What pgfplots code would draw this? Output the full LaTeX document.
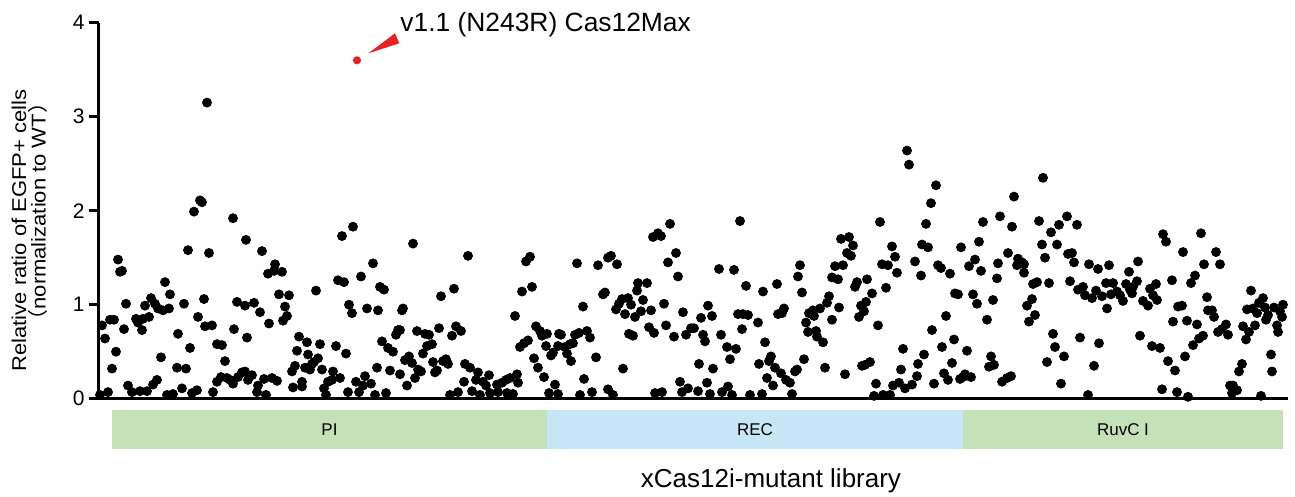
\documentclass[border=0pt]{standalone}
\usepackage{fontspec}
\setmainfont{Liberation Sans}
\newfontfamily\cjk{Noto Sans CJK SC}
\usepackage{graphicx}
\usepackage{pgfplots}
\usepackage{pgfplotstable}
\pgfplotsset{compat=1.18}

\definecolor{domgreen}{RGB}{197,225,183}
\definecolor{domblue}{RGB}{199,230,247}
\definecolor{hlred}{RGB}{232,32,32}

% Library screen: mutant position (library order) vs. relative EGFP+ ratio
\pgfplotstableread{
x y
100 0.04
102 0.78
105 0.64
108 0.07
110 0.84
112 0.32
114 0.84
116 0.50
118 1.48
120 1.35
122 1.36
124 0.74
126 1.01
128 0.14
132 0.07
136 0.85
138 0.81
140 0.08
142 0.73
143 0.85
145 0.99
147 0.08
149 0.87
151 1.07
153 0.15
155 1.01
157 0.20
158 0.96
161 0.44
163 0.94
165 1.24
167 0.04
169 0.96
170 1.11
173 0.05
177 0.33
178 0.69
182 0.11
184 1.01
186 0.32
188 1.58
190 0.54
192 0.06
194 1.99
197 0.09
198 0.87
200 2.11
202 2.09
204 1.06
205 0.77
207 3.15
209 1.55
212 0.78
213 0.07
217 0.58
217 0.18
221 0.23
222 0.57
225 0.40
227 0.22
230 0.20
233 1.92
233 0.16
234 0.74
237 1.03
238 0.23
242 0.28
245 0.99
245 0.29
246 1.69
247 0.65
248 0.20
252 0.25
254 1.02
257 0.07
258 0.14
260 0.92
262 1.57
264 0.21
266 0.04
268 1.33
269 0.80
272 0.22
274 1.36
275 1.43
277 0.19
279 1.11
282 1.35
283 0.83
285 0.98
287 0.88
289 1.10
292 0.29
293 0.12
295 0.35
297 0.51
299 0.66
302 0.18
302 0.13
305 0.33
307 0.60
308 0.47
310 0.31
312 0.37
314 0.39
316 1.15
318 0.43
320 0.58
322 0.31
324 0.11
326 0.04
328 0.18
332 0.20
333 0.29
336 0.56
338 1.26
340 0.22
342 1.73
344 1.24
346 0.48
348 0.07
349 1.00
352 0.91
353 1.83
356 0.18
359 0.07
361 1.30
363 0.14
365 0.24
367 0.96
371 0.16
373 1.44
375 0.04
377 0.33
378 0.94
380 1.19
382 0.61
384 1.16
386 0.06
388 0.54
390 0.30
393 0.50
396 0.68
398 0.73
400 0.26
400 0.73
402 0.94
403 0.96
405 0.41
407 0.14
409 0.45
412 0.38
413 1.65
415 0.22
417 0.72
418 0.31
421 0.29
423 0.48
425 0.69
427 0.56
429 0.68
432 0.58
433 0.39
435 0.28
437 0.30
439 0.75
441 1.09
443 0.40
446 0.42
448 0.37
450 0.04
452 0.67
454 1.17
456 0.77
458 0.07
461 0.72
464 0.18
465 0.37
468 1.52
470 0.33
472 0.08
476 0.20
478 0.28
480 0.04
483 0.18
486 0.14
489 0.25
490 0.06
497 0.15
498 0.07
502 0.17
506 0.20
507 0.06
510 0.22
513 0.05
515 0.88
517 0.26
518 0.17
520 0.55
522 1.14
524 0.59
526 1.46
528 0.62
530 1.51
532 1.19
534 0.43
536 0.77
538 0.33
540 0.72
542 0.67
544 0.23
546 0.56
547 0.69
549 0.06
551 0.46
553 0.49
555 0.15
558 0.56
558 0.05
559 0.69
561 0.68
565 0.55
567 0.48
570 0.58
571 0.40
573 0.59
575 0.68
577 1.44
579 0.70
580 0.04
583 0.98
584 0.21
587 0.72
590 0.65
592 0.07
596 0.44
598 1.42
603 1.11
605 1.13
608 1.50
608 0.10
611 1.52
613 0.04
616 0.95
617 1.43
619 1.01
622 1.06
623 0.32
625 0.90
628 1.07
629 0.69
631 1.00
633 0.67
635 0.87
637 1.15
638 1.23
641 0.93
643 1.05
647 1.23
649 0.76
651 0.94
653 1.72
654 0.70
655 0.06
658 1.76
661 1.73
662 0.07
664 1.01
666 0.78
668 1.45
670 1.86
674 0.66
676 1.55
678 1.30
680 0.18
682 0.07
683 0.92
686 0.68
688 0.11
691 0.75
694 0.75
698 0.08
699 0.37
701 0.86
703 0.68
705 0.61
707 0.17
708 0.99
710 0.05
712 0.88
713 0.32
719 1.38
721 0.68
722 0.07
727 0.55
728 0.13
730 0.42
732 0.04
734 1.37
736 0.53
738 0.90
740 1.89
742 0.74
743 0.90
746 1.20
748 0.89
750 0.04
758 0.81
759 0.37
762 0.05
763 1.14
765 0.60
767 0.22
769 0.40
771 0.45
773 0.14
775 0.33
777 1.22
778 0.90
781 0.27
782 0.91
784 0.96
786 0.20
790 0.17
792 0.05
795 0.29
797 0.31
798 1.30
800 1.42
802 1.13
804 0.42
806 0.81
808 0.71
809 0.91
813 0.94
814 0.88
816 0.72
817 0.66
820 0.96
823 0.60
825 0.33
827 1.02
829 1.09
832 1.29
832 0.84
835 1.41
838 1.27
839 0.97
841 1.70
843 1.42
845 0.26
847 1.55
849 1.72
851 1.52
853 1.63
855 1.19
857 1.24
859 0.87
861 0.99
862 0.35
864 0.93
865 0.36
866 1.03
867 1.27
870 0.39
872 1.12
874 0.03
876 0.16
878 0.78
880 1.88
882 1.43
883 0.04
886 1.18
888 1.42
890 0.04
892 1.62
893 0.14
895 1.51
897 1.34
899 0.17
901 0.31
903 0.53
905 0.11
907 2.64
909 2.49
912 0.15
915 1.46
917 0.24
918 0.37
921 1.31
922 1.64
924 0.47
926 1.86
928 1.61
931 2.08
932 0.73
934 0.16
936 2.27
938 1.42
941 1.39
942 0.55
944 0.27
946 0.88
948 0.20
950 1.33
952 0.38
954 0.63
955 1.12
958 1.11
960 0.21
961 1.61
963 0.23
965 0.26
967 0.51
969 1.41
971 0.23
973 1.11
975 1.48
977 1.01
979 1.67
981 1.36
983 1.88
987 0.84
989 0.34
991 0.45
993 1.05
994 0.36
997 1.28
998 1.44
1000 1.94
1002 0.18
1007 0.22
1008 1.55
1011 0.24
1012 1.83
1014 2.15
1017 1.42
1018 1.49
1022 1.45
1024 1.43
1024 1.34
1027 0.99
1029 0.82
1032 1.06
1033 1.22
1035 0.89
1037 1.24
1039 1.89
1042 1.64
1043 2.35
1045 1.50
1047 0.39
1049 1.23
1051 1.77
1053 0.69
1055 0.55
1057 1.64
1059 1.85
1061 0.16
1064 0.45
1067 1.94
1068 1.54
1070 1.25
1072 1.55
1074 1.45
1077 1.85
1078 1.16
1080 0.65
1083 1.19
1085 1.10
1088 0.04
1089 1.43
1092 1.07
1094 0.35
1096 1.15
1098 1.38
1099 0.59
1102 1.09
1106 1.23
1107 0.96
1109 1.42
1111 1.11
1113 1.23
1117 1.14
1120 1.10
1123 1.04
1126 1.22
1129 1.35
1130 1.16
1132 1.12
1133 1.19
1137 1.25
1138 1.46
1140 0.67
1143 1.04
1148 0.99
1150 1.17
1152 0.56
1153 1.10
1156 1.22
1157 1.05
1160 0.54
1162 0.10
1163 1.75
1166 1.67
1168 0.40
1172 1.26
1173 0.82
1175 0.30
1177 0.07
1178 0.98
1182 0.99
1183 1.56
1185 0.45
1187 0.83
1188 0.02
1191 1.23
1193 0.57
1195 1.31
1197 0.79
1199 0.64
1201 1.76
1203 0.67
1204 1.43
1207 1.08
1208 0.94
1212 0.94
1214 0.87
1216 1.56
1218 0.71
1220 1.43
1222 0.74
1226 0.79
1228 0.68
1230 0.14
1232 0.06
1233 0.14
1237 0.09
1239 0.29
1242 0.37
1243 0.77
1246 0.63
1247 0.95
1249 0.71
1251 1.15
1253 0.96
1255 0.78
1257 0.91
1259 1.02
1261 0.03
1263 1.07
1265 0.97
1266 0.84
1268 0.89
1271 0.47
1272 0.29
1274 0.97
1277 0.78
1278 0.71
1280 0.93
1282 0.87
1283 1.00
}\librarydata

\begin{document}
\begin{tikzpicture}[x=1pt,y=1pt]
\begin{axis}[
  name=ax,
  at={(0,0)}, anchor=south west,
  scale only axis,
  width=594.5pt, height=188pt,
  xmin=99, xmax=1288, ymin=0, ymax=4,
  clip=false,
  axis x line=bottom, axis y line=left,
  axis line style={-, line width=1.5pt, black},
  xtick=\empty,
  ytick={0,1,2,3,4},
  tick align=outside,
  major tick length=5pt,
  every tick/.style={black, line width=1.5pt},
  yticklabel style={font=\fontsize{10.5}{12}\selectfont, inner sep=2pt},
  /pgf/number format/assume math mode=true,
  xlabel={\fontsize{13}{15}\selectfont xCas12i-mutant library},
  every axis x label/.style={at={(axis cs:771,-0.876)}, anchor=center},
  ylabel={\fontsize{10}{12}\selectfont\scalebox{1.1}[1]{Relative ratio of EGFP+ cells}},
  every axis y label/.style={at={(axis cs:19,1.79)}, anchor=center, rotate=90},
]
% functional domains of the protein along the library
\fill[domgreen] (axis cs:112,-0.120) rectangle (axis cs:547,-0.538);
\fill[domblue]  (axis cs:547,-0.120) rectangle (axis cs:963,-0.538);
\fill[domgreen] (axis cs:963,-0.120) rectangle (axis cs:1283,-0.538);
\node[font=\fontsize{8.5}{10}\selectfont] at (axis cs:329.5,-0.329) {PI};
\node[font=\fontsize{8.5}{10}\selectfont] at (axis cs:755,-0.329) {REC};
\node[font=\fontsize{8.5}{10}\selectfont] at (axis cs:1123,-0.329) {RuvC I};

\addplot[only marks, mark=*, mark size=2.25pt, black] table[x=x, y=y] {\librarydata};

% selected variant
\addplot[only marks, mark=*, mark size=1.8pt, hlred, mark options={draw=hlred, fill=hlred}] coordinates {(357,3.60)};
\fill[hlred] (axis cs:368.3,3.674) -- (axis cs:395,3.887) -- (axis cs:399.3,3.781) -- cycle;
\node[anchor=base west, inner sep=0pt, font=\fontsize{13.2}{15}\selectfont] at (axis cs:400,3.904) {v1.1 (N243R) Cas12Max};

% second line of the y label
\node[rotate=90, font=\fontsize{10}{12}\selectfont] at (axis cs:38,1.99)
  {\scalebox{1.1}[1]{{\cjk （}normalization to WT{\cjk ）}}};
\end{axis}
\pgfresetboundingbox
\path[use as bounding box] (-49.5pt,-49.15pt) rectangle (598pt,199.35pt);
\end{tikzpicture}
\end{document}
